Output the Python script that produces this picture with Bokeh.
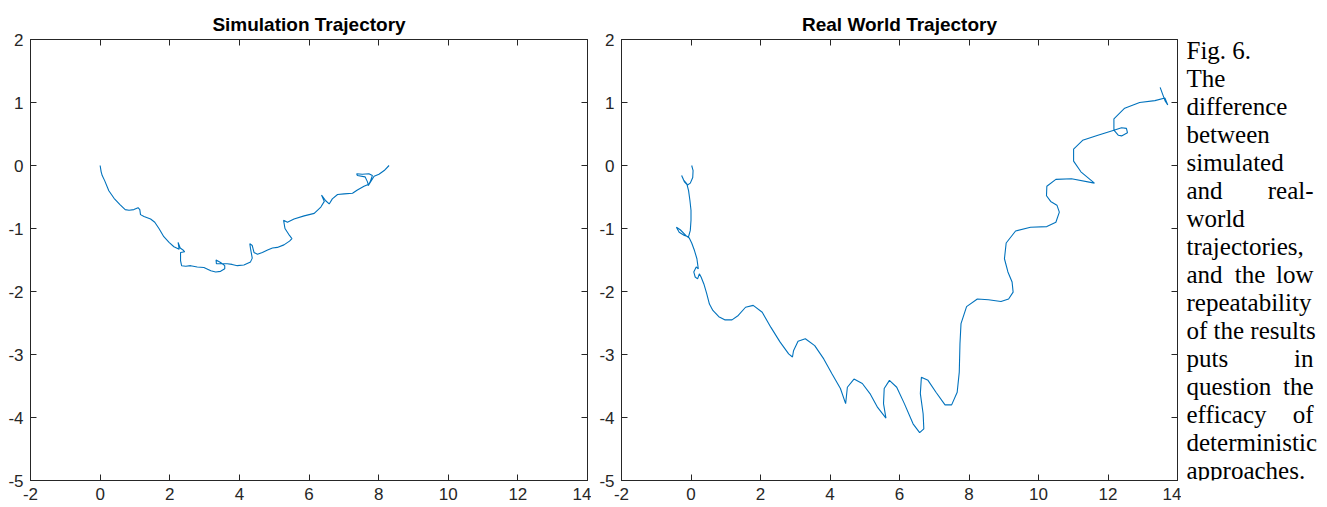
from bokeh.plotting import figure
from bokeh.layouts import row
from bokeh.models import Range1d, LinearAxis, FixedTicker, Label
from bokeh.embed import file_html
from bokeh.resources import INLINE

# ---------------- data ----------------
sim_x = [0.00, 0.03, 0.06, 0.13, 0.25, 0.40, 0.57, 0.72, 0.83, 0.97, 1.09, 1.14, 1.16, 1.26, 1.45,
         1.57, 1.69, 1.83, 1.98, 2.12, 2.27, 2.24, 2.30, 2.38, 2.43, 2.31, 2.31, 2.34, 2.46, 2.60,
         2.79, 2.98, 3.18, 3.32, 3.46, 3.58, 3.58, 3.46, 3.33, 3.34, 3.50, 3.65, 3.79, 3.94, 4.13,
         4.32, 4.37, 4.32, 4.30, 4.37, 4.42, 4.52, 4.66, 4.81, 4.95, 5.09, 5.28, 5.44, 5.51, 5.44,
         5.31, 5.27, 5.38, 5.57, 5.86, 6.15, 6.34, 6.44, 6.36, 6.48, 6.58, 6.67, 6.82, 7.01, 7.25,
         7.39, 7.58, 7.70, 7.68, 7.61, 7.39, 7.37, 7.53, 7.72, 7.82, 7.77, 7.70, 7.87, 8.01, 8.16,
         8.30]
sim_y = [0.00, -0.10, -0.16, -0.24, -0.40, -0.52, -0.62, -0.70, -0.71, -0.70, -0.67, -0.70, -0.78, -0.81, -0.85,
         -0.90, -1.00, -1.13, -1.22, -1.29, -1.33, -1.22, -1.31, -1.34, -1.37, -1.38, -1.51, -1.59, -1.60, -1.59,
         -1.61, -1.62, -1.67, -1.69, -1.68, -1.64, -1.59, -1.54, -1.50, -1.56, -1.56, -1.56, -1.57, -1.59, -1.58,
         -1.53, -1.47, -1.32, -1.24, -1.27, -1.38, -1.41, -1.38, -1.34, -1.31, -1.30, -1.26, -1.20, -1.16, -1.11,
         -1.00, -0.87, -0.90, -0.85, -0.80, -0.76, -0.66, -0.57, -0.47, -0.56, -0.61, -0.53, -0.46, -0.45, -0.44,
         -0.39, -0.33, -0.30, -0.26, -0.18, -0.16, -0.13, -0.14, -0.13, -0.16, -0.24, -0.32, -0.17, -0.14, -0.08,
         0.00]

real_x = [0.02, 0.06, 0.05, -0.02, -0.10, -0.19, -0.27, -0.21, -0.12, -0.07, -0.03, 0.00, 0.00, -0.02, -0.07,
          -0.19, -0.34, -0.42, -0.31, -0.15, -0.05, 0.02, 0.10, 0.17, 0.21, 0.15, 0.08, 0.12, 0.19, 0.24,
          0.29, 0.37, 0.45, 0.53, 0.63, 0.80, 0.97, 1.18, 1.36, 1.57, 1.79, 2.05, 2.30, 2.56, 2.81,
          2.92, 2.95, 3.08, 3.29, 3.56, 3.82, 4.06, 4.30, 4.45, 4.50, 4.69, 4.93, 5.15, 5.37, 5.61,
          5.54, 5.56, 5.71, 5.92, 6.14, 6.39, 6.58, 6.70, 6.68, 6.60, 6.63, 6.82, 7.05, 7.31, 7.50,
          7.66, 7.72, 7.74, 7.77, 7.93, 8.24, 8.56, 8.92, 9.14, 9.27, 9.24, 9.12, 9.02, 9.07, 9.34,
          9.77, 10.24, 10.50, 10.60, 10.53, 10.35, 10.23, 10.24, 10.50, 10.95, 11.61, 11.22, 11.01, 11.01, 11.27,
          11.71, 12.17, 12.30, 12.39, 12.56, 12.53, 12.39, 12.17, 12.17, 12.48, 12.91, 13.35, 13.64, 13.72, 13.64,
          13.50]
real_y = [0.00, -0.08, -0.19, -0.28, -0.31, -0.26, -0.16, -0.23, -0.29, -0.40, -0.56, -0.71, -0.87, -1.03, -1.13,
          -1.11, -1.06, -0.98, -1.02, -1.11, -1.15, -1.23, -1.35, -1.48, -1.64, -1.61, -1.69, -1.77, -1.80, -1.72,
          -1.77, -1.88, -2.03, -2.20, -2.30, -2.40, -2.45, -2.45, -2.38, -2.25, -2.22, -2.33, -2.57, -2.80, -2.99,
          -3.04, -2.94, -2.79, -2.75, -2.86, -3.07, -3.31, -3.54, -3.78, -3.52, -3.39, -3.46, -3.62, -3.84, -4.01,
          -3.78, -3.54, -3.41, -3.52, -3.78, -4.10, -4.24, -4.18, -3.94, -3.62, -3.36, -3.41, -3.60, -3.80, -3.80,
          -3.60, -3.28, -2.83, -2.51, -2.24, -2.12, -2.13, -2.16, -2.12, -2.01, -1.85, -1.69, -1.48, -1.23, -1.04,
          -0.98, -0.97, -0.90, -0.74, -0.63, -0.57, -0.48, -0.33, -0.22, -0.21, -0.28, -0.10, 0.07, 0.26, 0.40,
          0.48, 0.56, 0.48, 0.47, 0.52, 0.59, 0.60, 0.56, 0.74, 0.91, 1.00, 1.03, 1.07, 0.96, 1.03,
          1.24]

x_ticks = [-2, 0, 2, 4, 6, 8, 10, 12, 14]
y_ticks = [-5, -4, -3, -2, -1, 0, 1, 2]
titles = ["Simulation Trajectory", "Real World Trajectory"]

caption_lines = ["Fig. 6.", "The", "difference", "between", "simulated", "and real-", "world",
                 "trajectories,", "and the low", "repeatability", "of the results", "puts in",
                 "question the", "efficacy of", "deterministic", "approaches."]
caption_justified = [False, False, False, False, False, True, False,
                     False, True, False, False, True,
                     True, True, False, False]

AX = "#262626"
LINE = "#0072BD"
FONT = "Liberation Sans"

TOP, FRAME_H, BOTTOM = 39, 441, 27


def style_axis(ax, ticks, show_labels=True):
    ax.ticker = FixedTicker(ticks=ticks)
    ax.major_tick_in = 6
    ax.major_tick_out = 0
    ax.minor_tick_line_color = None
    ax.major_tick_line_color = AX
    ax.major_tick_line_width = 1
    ax.axis_line_color = AX
    ax.axis_line_width = 1
    if show_labels:
        ax.major_label_overrides = {t: str(t) for t in ticks}
        ax.major_label_text_font = FONT
        ax.major_label_text_font_size = "17px"
        ax.major_label_text_color = AX
        ax.major_label_standoff = 7
    else:
        ax.major_label_overrides = {t: "" for t in ticks}
        ax.major_label_text_font_size = "0px"
        ax.major_label_standoff = 0
        ax.axis_line_color = None


def make_panel(title, xs, ys, frame_w):
    p = figure(frame_width=frame_w, frame_height=FRAME_H,
               x_range=Range1d(-2, 14), y_range=Range1d(-5, 2),
               output_backend="svg", toolbar_location=None,
               min_border_left=30, min_border_right=4,
               min_border_top=TOP, min_border_bottom=BOTTOM,
               title=title)
    p.title.align = "center"
    p.title.text_font = FONT
    p.title.text_font_size = "19px"
    p.title.text_font_style = "bold"
    p.title.text_color = "#000000"
    p.title.standoff = 10
    p.grid.visible = False
    p.outline_line_color = AX
    p.outline_line_width = 1
    p.outline_line_alpha = 1
    p.background_fill_color = "white"
    p.border_fill_color = "white"
    style_axis(p.xaxis[0], x_ticks)
    style_axis(p.yaxis[0], y_ticks)
    top = LinearAxis()
    style_axis(top, x_ticks, show_labels=False)
    p.add_layout(top, "above")
    right = LinearAxis()
    style_axis(right, y_ticks, show_labels=False)
    p.add_layout(right, "right")
    p.line(xs, ys, line_color=LINE, line_width=1.1)
    return p


p1 = make_panel(titles[0], sim_x, sim_y, 557)
p2 = make_panel(titles[1], real_x, real_y, 556)

# caption panel: frame aligned with the plots, ranges in page pixels
CW = 146
p3 = figure(frame_width=CW, frame_height=FRAME_H, x_range=Range1d(0, CW),
            y_range=Range1d(TOP + FRAME_H, TOP),
            output_backend="svg", toolbar_location=None, title=None,
            min_border_left=0, min_border_right=0,
            min_border_top=TOP, min_border_bottom=BOTTOM)
p3.axis.visible = False
p3.grid.visible = False
p3.outline_line_color = None
p3.background_fill_color = "white"
p3.border_fill_color = "white"

XL, XR = 5, 132
Y0, DY = 50, 28


def add_label(x, y, txt, align):
    p3.add_layout(Label(x=x, y=y, text=txt, text_align=align, text_baseline="middle",
                        text_font="Liberation Serif", text_font_size="25px",
                        text_color="#000000"))


for i, (line, just) in enumerate(zip(caption_lines, caption_justified)):
    yy = Y0 + DY * i
    words = line.split()
    if just and len(words) > 1:
        add_label(XL, yy, words[0], "left")
        add_label(XR, yy, words[-1], "right")
        for w in words[1:-1]:
            add_label((XL + XR) / 2, yy, w, "center")
    else:
        add_label(XL, yy, line, "left")

layout = row(p1, p2, p3, spacing=0)
open("out.html", "w").write(file_html(layout, INLINE))
